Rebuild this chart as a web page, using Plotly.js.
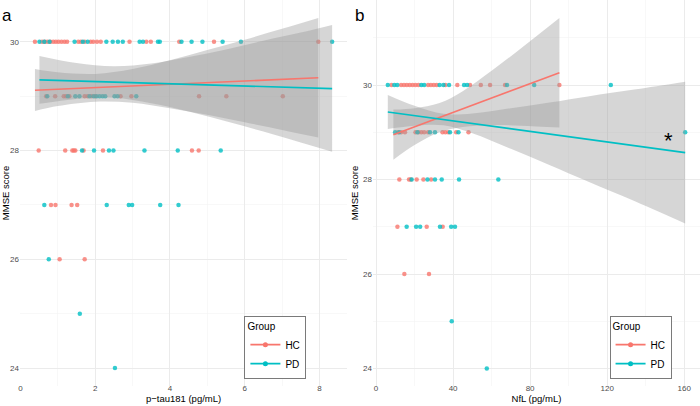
<!DOCTYPE html>
<html><head><meta charset="utf-8">
<script src="https://cdn.plot.ly/plotly-3.0.1.min.js"></script>
<style>html,body{margin:0;padding:0;background:#fff}#chart{width:700px;height:406px}</style>
</head><body><div id="chart"></div>
<script>
// ---------- Panel a: p-tau181 vs MMSE ----------
const ptauHC_x = [0.39,0.58,0.65,0.72,0.80,0.88,0.95,1.02,1.10,1.18,1.25,1.55,1.62,1.72,1.88,1.95,2.05,2.15,2.92,3.37,3.49,4.25,5.18,7.97,
  0.69,0.93,1.16,1.22,1.31,1.72,1.80,1.90,2.00,2.68,2.97,4.78,5.51,7.02,
  0.49,1.20,1.39,1.43,1.47,1.69,2.21,4.59,4.77,
  0.82,0.94,1.37,1.52,
  1.05,1.72];
const ptauHC_y = [30,30,30,30,30,30,30,30,30,30,30,30,30,30,30,30,30,30,30,30,30,30,30,30,
  29,29,29,29,29,29,29,29,29,29,29,29,29,29,
  28,28,28,28,28,28,28,28,28,
  27,27,27,27,
  26,26];
const ptauPD_x = [0.51,0.64,0.78,1.45,1.67,1.80,2.30,2.47,2.61,2.74,3.19,3.28,3.68,3.73,4.31,4.58,4.87,5.41,5.90,8.34,
  0.72,1.27,1.47,1.58,1.85,1.96,2.04,2.12,2.20,2.27,2.52,2.60,3.10,
  1.65,1.97,2.37,2.49,3.32,4.21,5.36,
  0.64,2.31,2.90,2.99,3.74,4.23,
  0.76,1.59,2.53];
const ptauPD_y = [30,30,30,30,30,30,30,30,30,30,30,30,30,30,30,30,30,30,30,30,
  29,29,29,29,29,29,29,29,29,29,29,29,29,
  28,28,28,28,28,28,28,
  27,27,27,27,27,27,
  26,25,24];
// fitted lines and 95% CI bands
const ptauHC_fitX = [0.39, 7.97];
const ptauHC_fitY = [29.11, 29.34];
const ptauHC_bandX = [0.39,1,2,3,4,5,6,7,7.97];
const ptauHC_lo = [28.73,28.82,28.90,28.88,28.78,28.66,28.52,28.38,28.24];
const ptauHC_hi = [29.50,29.44,29.41,29.50,29.66,29.85,30.04,30.24,30.44];
const ptauPD_fitX = [0.51, 8.34];
const ptauPD_fitY = [29.30, 29.14];
const ptauPD_bandX = [0.51,1.5,2.5,3.5,4.5,5.5,6.5,7.5,8.34];
const ptauPD_lo = [28.86,28.95,28.97,28.87,28.72,28.54,28.35,28.15,27.98];
const ptauPD_hi = [29.74,29.61,29.55,29.60,29.72,29.86,30.02,30.17,30.31];

// ---------- Panel b: NfL vs MMSE ----------
const nflHC_x = [8,13,14.5,16,17.5,19,20.5,22,27,28.5,30,31.5,36,42.2,48.8,54.4,59.2,67,95.2,
  11.5,13,15,20.5,22,23.5,25,27,34.5,36,37.5,41.6,48,
  12.1,17.1,18,21.1,24.6,28.6,
  11.1,26.3,34.6,
  14.7,27.5];
const nflHC_y = [30,30,30,30,30,30,30,30,30,30,30,30,30,30,30,30,30,30,30,
  29,29,29,29,29,29,29,29,29,29,29,29,29,
  28,28,28,28,28,28,
  27,27,27,
  26,26];
const nflPD_x = [6.1,9.5,11,23.5,25,33,35,37.9,45.7,47.3,68,82.1,121.9,
  9.9,12,21.5,28,30.6,38.4,42.8,160.5,
  18.5,26.7,30.6,34.1,43.1,63.5,
  15.9,20.8,22.9,33.2,39,41,
  39.3,57.5];
const nflPD_y = [30,30,30,30,30,30,30,30,30,30,30,30,30,
  29,29,29,29,29,29,29,29,
  28,28,28,28,28,28,
  27,27,27,27,27,27,
  25,24];
const nflHC_fitX = [9, 95.2];
const nflHC_fitY = [28.95, 30.26];
const nflHC_bandX = [9,20,33,45,60,75,95.2];
const nflHC_lo = [28.42,28.73,29.00,29.11,29.15,29.14,29.10];
const nflHC_hi = [29.48,29.51,29.62,29.87,30.30,30.77,31.42];
const nflPD_fitX = [6.1, 160.5];
const nflPD_fitY = [29.43, 28.57];
const nflPD_bandX = [6.1,20,35,50,70,90,110,135,160.5];
const nflPD_lo = [29.07,29.14,29.15,28.98,28.65,28.31,27.96,27.53,27.07];
const nflPD_hi = [29.79,29.56,29.39,29.40,29.51,29.63,29.76,29.91,30.07];

const groups = ['HC','PD'];
const colHC = '#F8766D', colPD = '#00BFC4';
const bandFill = 'rgba(153,153,153,0.4)';

function pts(x, y, col, xa, ya){
  return {x:x, y:y, type:'scatter', mode:'markers', xaxis:xa, yaxis:ya, showlegend:false, hoverinfo:'skip',
    marker:{color:col, size:4.5, opacity:0.8}};
}
function band(bx, lo, hi, xa, ya){
  return [
    {x:bx, y:lo, type:'scatter', mode:'lines', line:{width:0, shape:'spline'}, xaxis:xa, yaxis:ya, showlegend:false, hoverinfo:'skip'},
    {x:bx, y:hi, type:'scatter', mode:'lines', line:{width:0, shape:'spline'}, fill:'tonexty', fillcolor:bandFill, xaxis:xa, yaxis:ya, showlegend:false, hoverinfo:'skip'}
  ];
}
function fit(x, y, col, xa, ya){
  return {x:x, y:y, type:'scatter', mode:'lines', line:{color:col, width:1.6}, xaxis:xa, yaxis:ya, showlegend:false, hoverinfo:'skip'};
}
function key(name, col, xa, ya, lg){
  return {x:[null], y:[null], type:'scatter', mode:'lines+markers', name:name, legend:lg, xaxis:xa, yaxis:ya,
    line:{color:col, width:1.6}, marker:{color:col, size:5}};
}

const data = [
  pts(ptauHC_x, ptauHC_y, colHC, 'x', 'y'),
  pts(ptauPD_x, ptauPD_y, colPD, 'x', 'y'),
  ...band(ptauHC_bandX, ptauHC_lo, ptauHC_hi, 'x', 'y'),
  ...band(ptauPD_bandX, ptauPD_lo, ptauPD_hi, 'x', 'y'),
  fit(ptauHC_fitX, ptauHC_fitY, colHC, 'x', 'y'),
  fit(ptauPD_fitX, ptauPD_fitY, colPD, 'x', 'y'),
  key(groups[0], colHC, 'x', 'y', 'legend'),
  key(groups[1], colPD, 'x', 'y', 'legend'),

  pts(nflHC_x, nflHC_y, colHC, 'x2', 'y2'),
  pts(nflPD_x, nflPD_y, colPD, 'x2', 'y2'),
  ...band(nflHC_bandX, nflHC_lo, nflHC_hi, 'x2', 'y2'),
  ...band(nflPD_bandX, nflPD_lo, nflPD_hi, 'x2', 'y2'),
  fit(nflHC_fitX, nflHC_fitY, colHC, 'x2', 'y2'),
  fit(nflPD_fitX, nflPD_fitY, colPD, 'x2', 'y2'),
  key(groups[0], colHC, 'x2', 'y2', 'legend2'),
  key(groups[1], colPD, 'x2', 'y2', 'legend2')
];

const FONT = 'Liberation Sans, Arial, sans-serif';
const grid = '#ebebeb';
function xax(dom, range, dtick, minor, title, anchor){
  return {domain:dom, range:range, dtick:dtick, tick0:0, anchor:anchor, showline:false, zeroline:false,
    showgrid:true, gridcolor:grid, gridwidth:1, ticks:'', ticklen:0, ticklabelstandoff:-4,
    minor:{dtick:minor, tick0:0, showgrid:true, gridcolor:'#f3f3f3', gridwidth:0.6},
    tickfont:{family:FONT, size:8, color:'#4d4d4d'},
    title:{text:title, font:{family:FONT, size:9.5, color:'#000'}, standoff:0}, automargin:false};
}
function yax(range, anchor){
  return {range:range, dtick:2, tick0:0, anchor:anchor, showline:false, zeroline:false,
    showgrid:true, gridcolor:grid, gridwidth:1, ticks:'', ticklen:0,
    minor:{dtick:1, tick0:0, showgrid:true, gridcolor:'#f3f3f3', gridwidth:0.6},
    tickfont:{family:FONT, size:8, color:'#4d4d4d'},
    title:{text:'MMSE score', font:{family:FONT, size:9.5, color:'#000'}, standoff:2}, automargin:false};
}
function leg(x){
  return {x:x, y:0.181, xanchor:'left', yanchor:'top', bgcolor:'#fff', bordercolor:'#7a7a7a', borderwidth:1,
    font:{family:FONT, size:10, color:'#000'}, title:{text:'Group', font:{family:FONT, size:10, color:'#000'}},
    traceorder:'normal', tracegroupgap:0, itemwidth:30};
}

const layout = {
  width:700, height:406, paper_bgcolor:'#fff', plot_bgcolor:'#fff',
  margin:{l:20, r:0, t:0, b:20},
  font:{family:FONT},
  xaxis: xax([0,0.481], [-0.01,8.74], 2, 1, 'p\u2212tau181 (pg/mL)', 'y'),
  yaxis: yax([23.67,30.77], 'x'),
  xaxis2: xax([0.519,1], [-1.62,168.2], 40, 20, 'NfL (pg/mL)', 'y2'),
  yaxis2: yax([23.63,31.80], 'x2'),
  legend: leg(0.33),
  legend2: leg(0.867),
  annotations:[
    {text:'a', xref:'paper', yref:'paper', x:-0.03, y:0.99, xanchor:'left', yanchor:'top', showarrow:false, font:{family:FONT, size:17, color:'#000'}},
    {text:'b', xref:'paper', yref:'paper', x:0.49, y:0.99, xanchor:'left', yanchor:'top', showarrow:false, font:{family:FONT, size:17, color:'#000'}},
    {text:'*', xref:'x2', yref:'y2', x:152, y:28.82, showarrow:false, font:{family:FONT, size:22, color:'#000'}}
  ]
};

Plotly.newPlot('chart', data, layout, {displayModeBar:false, staticPlot:true});
</script></body></html>
